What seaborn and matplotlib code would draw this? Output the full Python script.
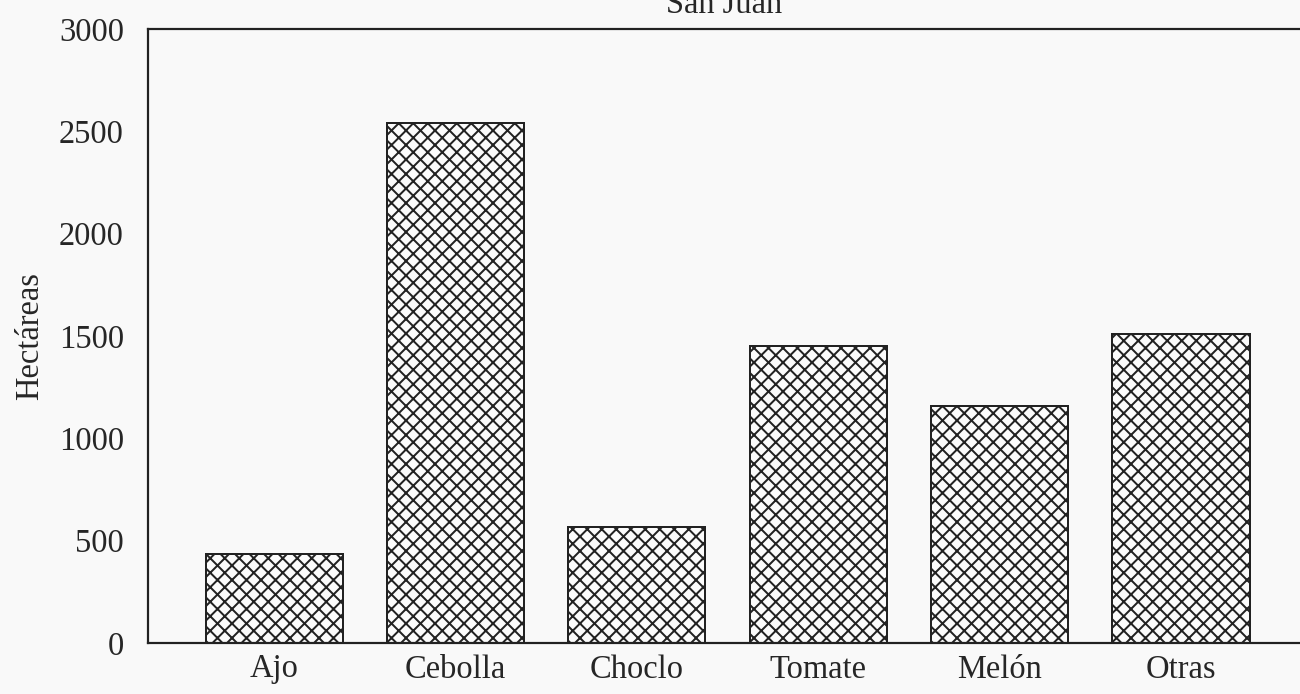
import matplotlib
matplotlib.use("Agg")
import matplotlib.pyplot as plt
import seaborn as sns
import pandas as pd

categories = ["Ajo", "Cebolla", "Choclo", "Tomate", "Melón", "Otras"]
hectareas = [435, 2540, 567, 1450, 1157, 1510]
yticks = [0, 500, 1000, 1500, 2000, 2500, 3000]
title = "San Juan"
ylabel = "Hectáreas"

DPI = 87
W, H = 1300, 694
PX = 72 / DPI  # points per pixel

sns.set_style("white")
plt.rcParams['font.family'] = ['Liberation Serif', 'DejaVu Serif']
plt.rcParams['hatch.linewidth'] = 2.0 * PX
plt.rcParams['hatch.color'] = '#2a2a2a'

df = pd.DataFrame({"cultivo": categories, "ha": hectareas})

FS = 32.5 * PX
TXT = '#262626'

fig = plt.figure(figsize=(W / DPI, H / DPI), dpi=DPI, facecolor='#f9f9f9')
ax = fig.add_axes([148 / W, 51 / H, 1152 / W, 614 / H])
ax.set_facecolor('#f9f9f9')

sns.barplot(data=df, x="cultivo", y="ha", order=categories, color='white',
            width=0.756, edgecolor='#222222', linewidth=2.0 * PX, ax=ax, errorbar=None)
for p in ax.patches:
    p.set_hatch('xx')
    p.set_facecolor('#fbfbfb')

ax.set_xlim(-0.695, 5.656)
ax.set_ylim(0, 3000)
ax.set_yticks(yticks)
ax.set_yticklabels([str(t) for t in yticks], fontsize=FS, color=TXT)
ax.set_xticks(range(len(categories)))
ax.set_xticklabels(categories, fontsize=FS, color=TXT)
ax.tick_params(axis='y', direction='in', length=5 * PX, width=1.2 * PX,
               pad=24 * PX, colors=TXT)
ax.tick_params(axis='x', length=0, pad=11 * PX)
ax.set_xlabel("")
ax.set_ylabel(ylabel, fontsize=FS, color=TXT, labelpad=14 * PX)

for s in ['left', 'top', 'bottom']:
    ax.spines[s].set_visible(True)
    ax.spines[s].set_color('#222222')
    ax.spines[s].set_linewidth(2.2 * PX)
ax.spines['right'].set_visible(False)

fig.text(724 / W, (H - 13) / H, title, ha='center', va='baseline',
         fontsize=FS, color=TXT)

fig.savefig("out.png", dpi=DPI, facecolor=fig.get_facecolor())
